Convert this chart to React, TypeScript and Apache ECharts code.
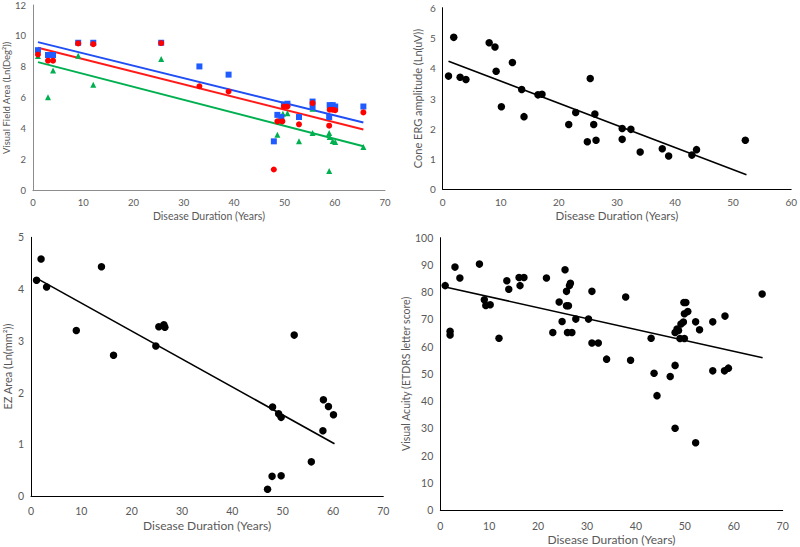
import React, { useEffect, useRef } from "react";
import * as echarts from "echarts";

// Panel 1: Visual field area (three isopters)
const vfBlue: number[][] = [
  [1, 9.08], [3, 8.77], [4, 8.77], [9, 9.56], [12, 9.56], [25.5, 9.56], [33.1, 8.03], [38.9, 7.5],
  [47.9, 3.19], [48.6, 4.9], [49.4, 4.76], [49.9, 5.57], [50.6, 5.62], [52.9, 4.76], [55.6, 5.76],
  [55.6, 5.4], [58.9, 4.76], [59.0, 5.53], [59.6, 5.53], [60.1, 5.44], [65.7, 5.44],
];
const vfRed: number[][] = [
  [1, 8.8], [3, 8.4], [4, 8.4], [9, 9.52], [12, 9.47], [25.5, 9.54], [33.1, 6.75], [38.9, 6.41],
  [47.9, 1.37], [48.6, 4.48], [49.6, 4.48], [49.9, 5.44], [50.6, 5.44], [52.9, 4.29], [55.6, 5.66],
  [58.9, 4.2], [59.0, 5.23], [59.6, 5.23], [60.1, 5.2], [65.7, 5.06],
];
const vfGreen: number[][] = [
  [1, 8.7], [3, 6.04], [4, 7.76], [9, 8.72], [12, 6.84], [25.5, 8.51], [48.6, 3.62], [48.9, 4.5],
  [49.7, 4.97], [50.6, 5.01], [52.9, 3.19], [55.6, 3.73], [55.6, 5.3], [58.9, 3.73], [59.0, 3.47],
  [58.9, 1.27], [59.6, 3.21], [60.1, 3.15], [65.7, 2.83],
];
const vfBlueTrend: number[][] = [[1, 9.6], [65.7, 4.41]];
const vfRedTrend: number[][] = [[1, 9.24], [65.7, 3.96]];
const vfGreenTrend: number[][] = [[1, 8.31], [65.7, 2.87]];

// Panel 2: Cone ERG amplitude
const ergData: number[][] = [
  [1, 3.74], [1.9, 5.02], [3, 3.7], [4, 3.63], [8, 4.84], [9, 4.7], [9.2, 3.9], [10.1, 2.73],
  [12, 4.19], [13.6, 3.3], [14, 2.4], [16.4, 3.12], [17.1, 3.14], [21.7, 2.14], [22.9, 2.54],
  [24.9, 1.57], [25.4, 3.66], [26, 2.14], [26.2, 2.49], [26.4, 1.62], [30.9, 2.01], [30.9, 1.65],
  [32.4, 1.98], [34, 1.23], [37.8, 1.34], [38.9, 1.1], [42.9, 1.13], [43.7, 1.31], [52.1, 1.62],
];
const ergTrend: number[][] = [[1, 4.23], [52.3, 0.48]];

// Panel 3: EZ area
const ezData: number[][] = [
  [1.1, 4.17], [2, 4.58], [3.1, 4.04], [9, 3.2], [14, 4.43], [16.4, 2.72], [24.8, 2.9], [25.4, 3.27],
  [26.4, 3.31], [26.6, 3.26], [47, 0.13], [47.9, 0.38], [48, 1.72], [49.2, 1.59], [49.7, 1.52],
  [49.7, 0.39], [52.3, 3.11], [55.7, 0.66], [58, 1.26], [58.1, 1.86], [59.1, 1.73], [60.1, 1.57],
];
const ezTrend: number[][] = [[0.9, 4.22], [60.3, 1.01]];

// Panel 4: Visual acuity
const vaData: number[][] = [
  [1, 82.4], [2, 65.6], [2, 64.3], [3, 89.2], [4, 85.2], [8, 90.3], [9, 77.2], [9.3, 75.1],
  [10.2, 75.4], [12, 63.1], [13.6, 84.2], [14, 81.1], [16.1, 85.4], [16.3, 82.4], [17.1, 85.4],
  [21.7, 85.2], [23, 65.2], [24.3, 76.4], [24.9, 69.2], [25.5, 88.2], [25.8, 80.3], [25.8, 75],
  [26.2, 75], [26, 65.2], [26.9, 65.2], [26.4, 82.4], [26.6, 83.3], [27.7, 70.1], [30.3, 70.1],
  [31, 80.3], [31, 61.3], [32.3, 61.3], [34, 55.4], [37.9, 78.2], [38.9, 55], [43.1, 63.1],
  [43.7, 50.2], [44.3, 42], [47, 49], [48, 53.1], [48, 30], [48, 65.2], [48.7, 65.9], [48.4, 66.5],
  [49, 63], [49.9, 63], [49.2, 68.3], [49.7, 69], [49.9, 72.1], [50.6, 72.9], [49.8, 76.2],
  [50.2, 76.2], [52.2, 69.1], [52.2, 24.7], [53, 66.2], [55.7, 69.1], [55.7, 51.1], [58.2, 71.2],
  [58.1, 51.1], [58.9, 52.1], [65.8, 79.3],
];
const vaTrend: number[][] = [[1, 81.9], [65.9, 55.9]];

const FONT = "Lato";
const LABEL_COLOR = "#595959";

function makeAxes(
  grid: number,
  xMax: number,
  yMax: number,
  yInterval: number,
  xName: string,
  yName: string,
  xGap: number,
  yGap: number,
  nameSizeX: number,
  nameSizeY: number,
  lineColor: string,
  tickSize: number,
  xMargin: number
) {
  const axisLine = { show: true, lineStyle: { color: lineColor, width: 1 } };
  const axisLabel = { color: LABEL_COLOR, fontFamily: FONT, fontSize: tickSize };
  return {
    x: {
      type: "value",
      gridIndex: grid,
      min: 0,
      max: xMax,
      interval: 10,
      axisLine,
      axisTick: { show: false },
      splitLine: { show: false },
      axisLabel: { ...axisLabel, margin: xMargin },
      name: xName,
      nameLocation: "middle",
      nameGap: xGap,
      nameTextStyle: { color: LABEL_COLOR, fontFamily: FONT, fontSize: nameSizeX },
    },
    y: {
      type: "value",
      gridIndex: grid,
      min: 0,
      max: yMax,
      interval: yInterval,
      axisLine,
      axisTick: { show: false },
      splitLine: { show: false },
      axisLabel: { ...axisLabel, margin: 7 },
      name: yName,
      nameLocation: "middle",
      nameGap: yGap,
      nameRotate: 90,
      nameTextStyle: { color: LABEL_COLOR, fontFamily: FONT, fontSize: nameSizeY },
    },
  };
}

export default function App() {
  const ref = useRef<HTMLDivElement>(null);
  useEffect(() => {
    if (!ref.current) return;
    const chart = echarts.init(ref.current, undefined, { renderer: "svg" });
    const a1 = makeAxes(0, 70, 12, 2, "Disease Duration (Years)", "Visual Field Area (Ln(Deg²))", 20, 18, 10.5, 9.5, "#8c8c8c", 9.5, 7);
    const a2 = makeAxes(1, 60, 6, 1, "Disease Duration (Years)", "Cone ERG amplitude (Ln(uV))", 20, 20, 11.5, 11, "#000000", 10, 8);
    const a3 = makeAxes(2, 70, 5, 1, "Disease Duration (Years)", "EZ Area (Ln(mm²))", 23, 18, 12, 11, "#000000", 10.5, 9);
    const a4 = makeAxes(3, 70, 100, 10, "Disease Duration (Years)", "Visual Acuity (ETDRS letter score)", 23, 29, 12, 10.5, "#000000", 10.5, 10);

    const scatter = (xi: number, data: number[][], symbol: string, size: number, color: string) => ({
      type: "scatter",
      xAxisIndex: xi,
      yAxisIndex: xi,
      data,
      symbol,
      symbolSize: size,
      itemStyle: { color, opacity: 1 },
      silent: true,
      z: 3,
    });
    const trend = (xi: number, data: number[][], color: string, width: number) => ({
      type: "line",
      xAxisIndex: xi,
      yAxisIndex: xi,
      data,
      showSymbol: false,
      symbol: "none",
      lineStyle: { color, width },
      silent: true,
      z: 2,
    });

    chart.setOption({
      animation: false,
      backgroundColor: "#ffffff",
      grid: [
        { left: 30.7, top: 4, width: 354.3, height: 186.7 },
        { left: 442.7, top: 7.7, width: 351.6, height: 181.6 },
        { left: 31, top: 237.3, width: 352.3, height: 258.7 },
        { left: 440.3, top: 237.7, width: 342.4, height: 272.3 },
      ],
      xAxis: [a1.x, a2.x, a3.x, a4.x],
      yAxis: [a1.y, a2.y, a3.y, a4.y],
      series: [
        trend(0, vfBlueTrend, "#1f4ef5", 2),
        trend(0, vfRedTrend, "#ff1a1a", 2),
        trend(0, vfGreenTrend, "#00b050", 2),
        scatter(0, vfGreen, "triangle", 6, "#00b050"),
        scatter(0, vfBlue, "rect", 6, "#1f5cff"),
        scatter(0, vfRed, "circle", 6, "#ff0000"),
        trend(1, ergTrend, "#000000", 1.6),
        scatter(1, ergData, "circle", 7.5, "#000000"),
        trend(2, ezTrend, "#000000", 1.6),
        scatter(2, ezData, "circle", 7.5, "#000000"),
        trend(3, vaTrend, "#000000", 1.6),
        scatter(3, vaData, "circle", 7.5, "#000000"),
      ],
    });
    return () => chart.dispose();
  }, []);
  return (
    <div
      ref={ref}
      style={{ position: "fixed", left: 0, top: 0, width: 800, height: 547, background: "#fff" }}
    />
  );
}
